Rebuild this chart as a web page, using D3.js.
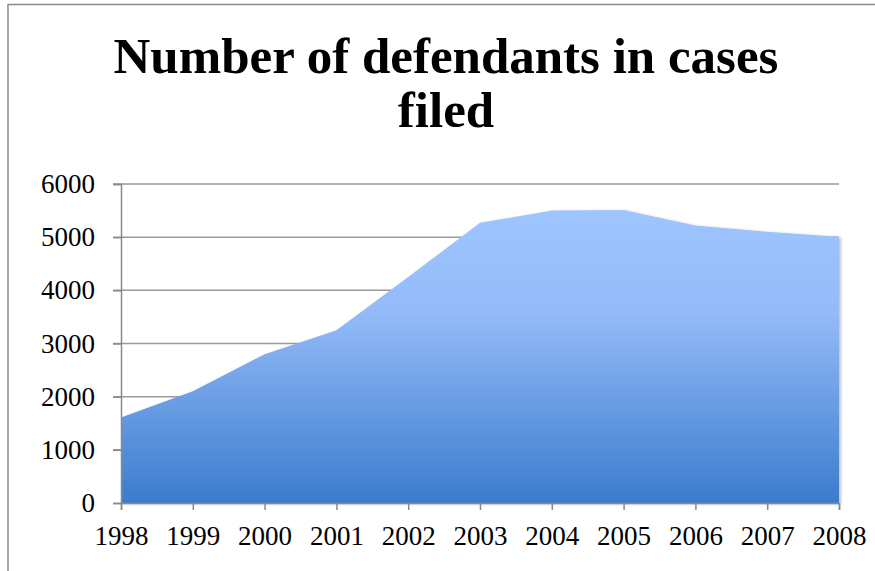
<!DOCTYPE html>
<html>
<head>
<meta charset="utf-8">
<script src="https://cdn.jsdelivr.net/npm/d3@7"></script>
<style>
  body { margin: 0; background: #fff; }
  svg { display: block; }
</style>
</head>
<body>
<svg width="875" height="571"></svg>
<script>
const years = ["1998", "1999", "2000", "2001", "2002", "2003", "2004", "2005", "2006", "2007", "2008"];
const defendants = [1610, 2100, 2800, 3250, 4250, 5270, 5500, 5510, 5220, 5100, 5010];
const yTicks = [0, 1000, 2000, 3000, 4000, 5000, 6000];
const titleLines = ["Number of defendants in cases", "filed"];

let svg = d3.select("svg");

// chart frame
svg.append("path")
  .attr("d", "M8,571 V4.5 H875")
  .attr("fill", "none")
  .attr("stroke", "#8a8a8a")
  .attr("stroke-width", 1.5);

let plotLeft = 121, plotRight = 839, plotTop = 184, plotBottom = 503;

let x = d3.scalePoint().domain(years).range([plotLeft, plotRight]);
let y = d3.scaleLinear().domain([0, 6000]).range([plotBottom, plotTop]);

let defs = svg.append("defs");
let grad = defs.append("linearGradient")
  .attr("id", "areaFill")
  .attr("x1", 0).attr("y1", 0).attr("x2", 0).attr("y2", 1);
grad.append("stop").attr("offset", "0%").attr("stop-color", "#9fc5ff");
grad.append("stop").attr("offset", "35%").attr("stop-color", "#94bbf8");
grad.append("stop").attr("offset", "100%").attr("stop-color", "#3b7ccd");

let shadow = defs.append("filter").attr("id", "shade")
  .attr("x", "-5%").attr("y", "-5%").attr("width", "115%").attr("height", "115%");
shadow.append("feDropShadow")
  .attr("dx", 2).attr("dy", 1).attr("stdDeviation", 1.5)
  .attr("flood-color", "#000").attr("flood-opacity", 0.25);

// gridlines
svg.append("g")
  .selectAll("line")
  .data(yTicks.filter((d) => d > 0))
  .join("line")
  .attr("x1", plotLeft - 8)
  .attr("x2", plotRight)
  .attr("y1", (d) => y(d))
  .attr("y2", (d) => y(d))
  .attr("stroke", "#9a9a9a")
  .attr("stroke-width", 1.5);

// area
let area = d3.area()
  .x((d, i) => x(years[i]))
  .y0(y(0))
  .y1((d) => y(d));

svg.append("path")
  .datum(defendants)
  .attr("d", area)
  .attr("fill", "url(#areaFill)")
  .attr("filter", "url(#shade)");

// y axis
let yAxis = svg.append("g")
  .attr("transform", `translate(${plotLeft},0)`)
  .call(d3.axisLeft(y).tickValues(yTicks).tickSize(8).tickPadding(18).tickFormat(d3.format("d")));

// x axis
let xAxis = svg.append("g")
  .attr("transform", `translate(0,${plotBottom})`)
  .call(d3.axisBottom(x).tickSize(7).tickPadding(16));

[yAxis, xAxis].forEach((g) => {
  g.select(".domain").attr("stroke", "#8a8a8a").attr("stroke-width", 1.5);
  g.selectAll(".tick line").attr("stroke", "#8a8a8a").attr("stroke-width", 1.5);
  g.selectAll(".tick text")
    .attr("fill", "#000")
    .attr("font-family", "Liberation Serif")
    .attr("font-size", "27px");
});
xAxis.selectAll(".tick text").attr("dy", "0.71em");

// title
svg.append("text")
  .attr("text-anchor", "middle")
  .attr("font-family", "Liberation Serif")
  .attr("font-weight", "bold")
  .attr("font-size", "51px")
  .attr("fill", "#000")
  .selectAll("tspan")
  .data(titleLines)
  .join("tspan")
  .attr("x", 446)
  .attr("y", (d, i) => 73 + i * 54)
  .text((d) => d);
</script>
</body>
</html>
